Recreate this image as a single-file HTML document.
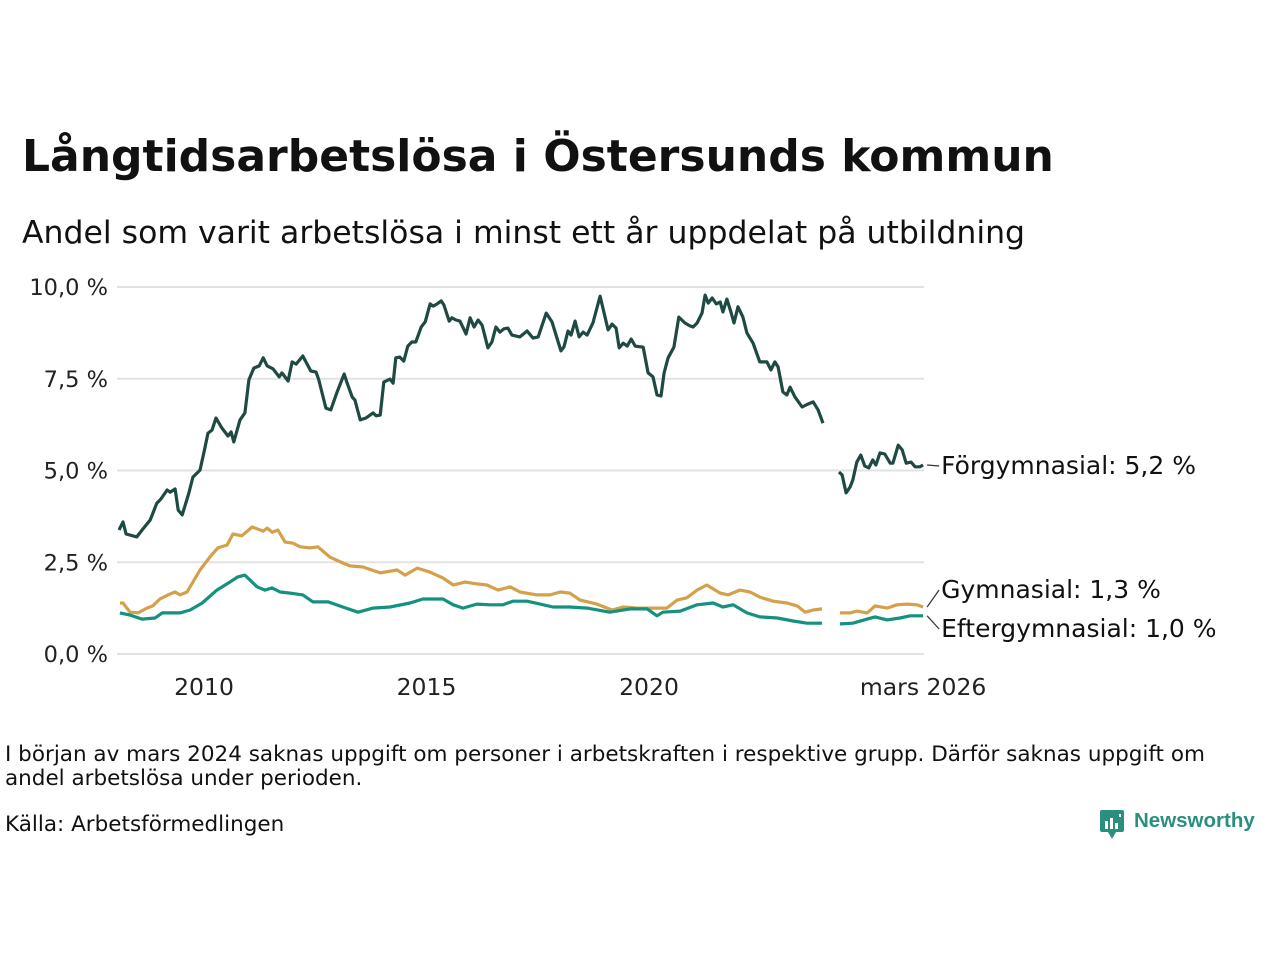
<!DOCTYPE html>
<html><head><meta charset="utf-8">
<style>
body{margin:0;background:#fff;width:1280px;height:960px;overflow:hidden;font-family:"DejaVu Sans","Liberation Sans",sans-serif;color:#111}
.t{position:absolute;white-space:nowrap}
</style></head><body>
<div class="t" style="left:22px;top:131px;font-size:44px;font-weight:bold;">Långtidsarbetslösa i Östersunds kommun</div>
<div class="t" style="left:22px;top:215px;font-size:31.5px;">Andel som varit arbetslösa i minst ett år uppdelat på utbildning</div>
<svg id="chart" style="position:absolute;left:0;top:0;font-family:'DejaVu Sans','Liberation Sans',sans-serif" width="1280" height="720"></svg>
<div class="t" style="left:5px;top:743px;font-size:21.5px;line-height:24px;white-space:normal;width:1250px;">I början av mars 2024 saknas uppgift om personer i arbetskraften i respektive grupp. Därför saknas uppgift om andel arbetslösa under perioden.</div>
<div class="t" style="left:5px;top:812px;font-size:21.5px;">Källa: Arbetsförmedlingen</div>
<div style="position:absolute;left:1100px;top:810px;">
<svg width="26" height="30"><rect x="0" y="0" width="24" height="22" rx="2" fill="#2a8f7f"/><polygon points="8,22 16,22 12,29" fill="#2a8f7f"/><rect x="5" y="11" width="3" height="8" fill="#fff"/><rect x="10" y="8" width="3" height="11" fill="#fff"/><rect x="15" y="13" width="3" height="6" fill="#fff"/><rect x="19" y="4" width="2" height="3" fill="#fff"/></svg>
<span class="t" style="left:34px;top:-1px;font-size:20.5px;font-weight:bold;color:#2a8f7f;font-family:'Liberation Sans',sans-serif;">Newsworthy</span>
</div>
<script>
const yTicks=[0,2.5,5,7.5,10];
const yTickLabels=["0,0 %","2,5 %","5,0 %","7,5 %","10,0 %"];
const xTicks=[2010,2015,2020,2026.16];
const xTickLabels=["2010","2015","2020","mars 2026"];
const darkDates=[2008.09,2008.18,2008.25,2008.49,2008.61,2008.79,2008.94,2009.03,2009.17,2009.24,2009.35,2009.42,2009.51,2009.66,2009.75,2009.91,2010.00,2010.09,2010.18,2010.27,2010.40,2010.54,2010.61,2010.67,2010.81,2010.92,2011.01,2011.12,2011.24,2011.33,2011.42,2011.55,2011.69,2011.75,2011.89,2011.98,2012.07,2012.22,2012.40,2012.52,2012.58,2012.74,2012.85,2012.99,2013.15,2013.21,2013.33,2013.39,2013.51,2013.64,2013.80,2013.87,2013.96,2014.04,2014.18,2014.25,2014.31,2014.40,2014.49,2014.58,2014.67,2014.76,2014.88,2014.97,2015.08,2015.15,2015.24,2015.33,2015.39,2015.51,2015.57,2015.66,2015.75,2015.89,2015.98,2016.07,2016.16,2016.25,2016.38,2016.47,2016.56,2016.65,2016.74,2016.83,2016.92,2017.10,2017.26,2017.39,2017.51,2017.69,2017.82,2018.02,2018.09,2018.18,2018.25,2018.34,2018.43,2018.52,2018.61,2018.74,2018.90,2019.08,2019.17,2019.26,2019.33,2019.42,2019.51,2019.60,2019.69,2019.87,2019.98,2020.09,2020.18,2020.27,2020.34,2020.43,2020.56,2020.67,2020.81,2020.92,2020.99,2021.08,2021.19,2021.26,2021.33,2021.42,2021.51,2021.60,2021.66,2021.75,2021.84,2021.91,2022.00,2022.11,2022.20,2022.34,2022.49,2022.65,2022.74,2022.83,2022.90,2023.01,2023.10,2023.17,2023.28,2023.44,2023.57,2023.69,2023.80,2023.91,2024.1,2024.27,2024.34,2024.43,2024.52,2024.58,2024.67,2024.76,2024.85,2024.94,2025.03,2025.10,2025.19,2025.30,2025.42,2025.48,2025.60,2025.69,2025.78,2025.89,2025.98,2026.09,2026.16];
const darkValues=[3.38,3.60,3.27,3.19,3.38,3.65,4.11,4.22,4.47,4.41,4.50,3.92,3.79,4.39,4.82,5.01,5.50,6.02,6.10,6.43,6.16,5.94,6.05,5.78,6.38,6.57,7.47,7.79,7.85,8.07,7.85,7.77,7.55,7.66,7.44,7.96,7.90,8.12,7.71,7.68,7.47,6.70,6.65,7.14,7.63,7.41,7.00,6.92,6.38,6.43,6.57,6.49,6.51,7.41,7.49,7.38,8.07,8.09,7.98,8.39,8.50,8.50,8.91,9.05,9.54,9.48,9.54,9.62,9.51,9.07,9.16,9.10,9.07,8.72,9.16,8.91,9.10,8.96,8.34,8.50,8.91,8.77,8.86,8.88,8.69,8.64,8.80,8.61,8.64,9.29,9.05,8.26,8.37,8.80,8.69,9.07,8.64,8.77,8.69,9.02,9.75,8.83,8.99,8.88,8.34,8.47,8.39,8.58,8.39,8.36,7.66,7.55,7.06,7.03,7.66,8.07,8.36,9.18,9.02,8.94,8.91,9.02,9.29,9.78,9.56,9.70,9.54,9.59,9.32,9.67,9.32,9.02,9.46,9.18,8.75,8.47,7.96,7.96,7.74,7.96,7.82,7.14,7.06,7.27,7.00,6.73,6.81,6.87,6.65,6.29,null,4.96,4.88,4.39,4.55,4.74,5.23,5.42,5.12,5.07,5.29,5.15,5.48,5.45,5.20,5.20,5.69,5.56,5.20,5.23,5.10,5.10,5.15];
const goldDates=[2008.11,2008.18,2008.34,2008.52,2008.72,2008.85,2009.01,2009.19,2009.35,2009.46,2009.62,2009.91,2010.13,2010.31,2010.52,2010.65,2010.85,2011.08,2011.33,2011.42,2011.53,2011.66,2011.82,2012.00,2012.16,2012.38,2012.56,2012.83,2013.12,2013.28,2013.57,2013.96,2014.34,2014.52,2014.79,2015.08,2015.37,2015.60,2015.87,2016.13,2016.36,2016.61,2016.88,2017.10,2017.48,2017.78,2018.00,2018.22,2018.45,2018.83,2019.17,2019.42,2019.73,2020.09,2020.40,2020.63,2020.85,2021.08,2021.30,2021.60,2021.78,2022.04,2022.27,2022.49,2022.79,2023.10,2023.33,2023.51,2023.69,2023.89,2024.1,2024.29,2024.52,2024.67,2024.90,2025.08,2025.35,2025.57,2025.80,2026.02,2026.16];
const goldValues=[1.39,1.39,1.14,1.12,1.25,1.31,1.50,1.61,1.69,1.61,1.69,2.29,2.64,2.89,2.97,3.27,3.22,3.46,3.35,3.43,3.32,3.38,3.05,3.02,2.92,2.89,2.92,2.64,2.48,2.40,2.37,2.21,2.29,2.15,2.34,2.23,2.07,1.88,1.96,1.91,1.88,1.74,1.83,1.69,1.61,1.61,1.69,1.66,1.47,1.36,1.20,1.28,1.25,1.25,1.25,1.47,1.53,1.74,1.88,1.66,1.61,1.74,1.69,1.55,1.44,1.39,1.31,1.14,1.20,1.23,null,1.12,1.12,1.17,1.12,1.31,1.25,1.34,1.36,1.34,1.28];
const tealDates=[2008.11,2008.34,2008.61,2008.90,2009.06,2009.46,2009.69,2009.96,2010.29,2010.58,2010.76,2010.92,2011.19,2011.37,2011.53,2011.71,2011.93,2012.22,2012.45,2012.79,2013.12,2013.46,2013.80,2014.18,2014.63,2014.92,2015.37,2015.60,2015.82,2016.13,2016.43,2016.72,2016.94,2017.26,2017.55,2017.84,2018.22,2018.61,2019.12,2019.57,2019.96,2020.18,2020.31,2020.70,2021.08,2021.44,2021.66,2021.89,2022.20,2022.49,2022.88,2023.24,2023.55,2023.89,2024.1,2024.29,2024.58,2024.90,2025.08,2025.35,2025.64,2025.87,2026.16];
const tealValues=[1.12,1.06,0.95,0.98,1.12,1.12,1.20,1.39,1.74,1.96,2.10,2.15,1.83,1.74,1.80,1.69,1.66,1.61,1.42,1.42,1.28,1.14,1.25,1.28,1.39,1.50,1.50,1.34,1.25,1.36,1.34,1.34,1.44,1.44,1.36,1.28,1.28,1.25,1.14,1.23,1.23,1.04,1.14,1.17,1.34,1.39,1.28,1.34,1.12,1.01,0.98,0.90,0.84,0.84,null,0.82,0.84,0.95,1.01,0.93,0.98,1.04,1.04];
const seriesNames=["Förgymnasial: 5,2 %","Gymnasial: 1,3 %","Eftergymnasial: 1,0 %"];

const NS="http://www.w3.org/2000/svg";
const svg=document.getElementById('chart');
const X=v=>204+(v-2010)*44.5;
const Y=v=>654-v*36.7;
function mk(tag,attrs){const e=document.createElementNS(NS,tag);for(const k in attrs)e.setAttribute(k,attrs[k]);svg.appendChild(e);return e;}
yTicks.forEach((t,i)=>{
  const g=mk('line',{x1:117,x2:924,y1:Y(t),y2:Y(t),stroke:'#e2e2e2','stroke-width':2});
  
  
  const l=mk('text',{x:108,y:Y(t)+8,'text-anchor':'end','font-size':22.5,fill:'#222'});
  l.textContent=yTickLabels[i];
  
  
});
xTicks.forEach((t,i)=>{
  const l=mk('text',{x:X(t),y:695,'text-anchor':'middle','font-size':23.5,fill:'#222'});
  l.textContent=xTickLabels[i];
  
  
});
function draw(dates,vals,color,name){
  let d='',pen=false;
  dates.forEach((t,i)=>{const v=vals[i];if(v===null){pen=false;return;}d+=(pen?'L':'M')+X(t).toFixed(1)+','+Y(v).toFixed(1);pen=true;});
  const p=mk('path',{d:d,fill:'none',stroke:color,'stroke-width':3.2,'stroke-linejoin':'round'});
  
  
}
draw(goldDates,goldValues,'#d4a04a','line-gymnasial');
draw(tealDates,tealValues,'#14917f','line-eftergymnasial');
draw(darkDates,darkValues,'#1f4a43','line-forgymnasial');
const lastX=X(2026.16);
const labY=[466,590,629];
const lastV=[darkValues[darkValues.length-1],goldValues[goldValues.length-1],tealValues[tealValues.length-1]];
lastV.forEach((v,i)=>{
  const c=mk('line',{x1:lastX+4,y1:Y(v),x2:lastX+16,y2:labY[i],stroke:'#333','stroke-width':1.2});
  
  
  const t=mk('text',{x:lastX+18,y:labY[i]+8,'font-size':25,fill:'#111'});
  t.textContent=seriesNames[i];
  
  
});
</script>
</body></html>
